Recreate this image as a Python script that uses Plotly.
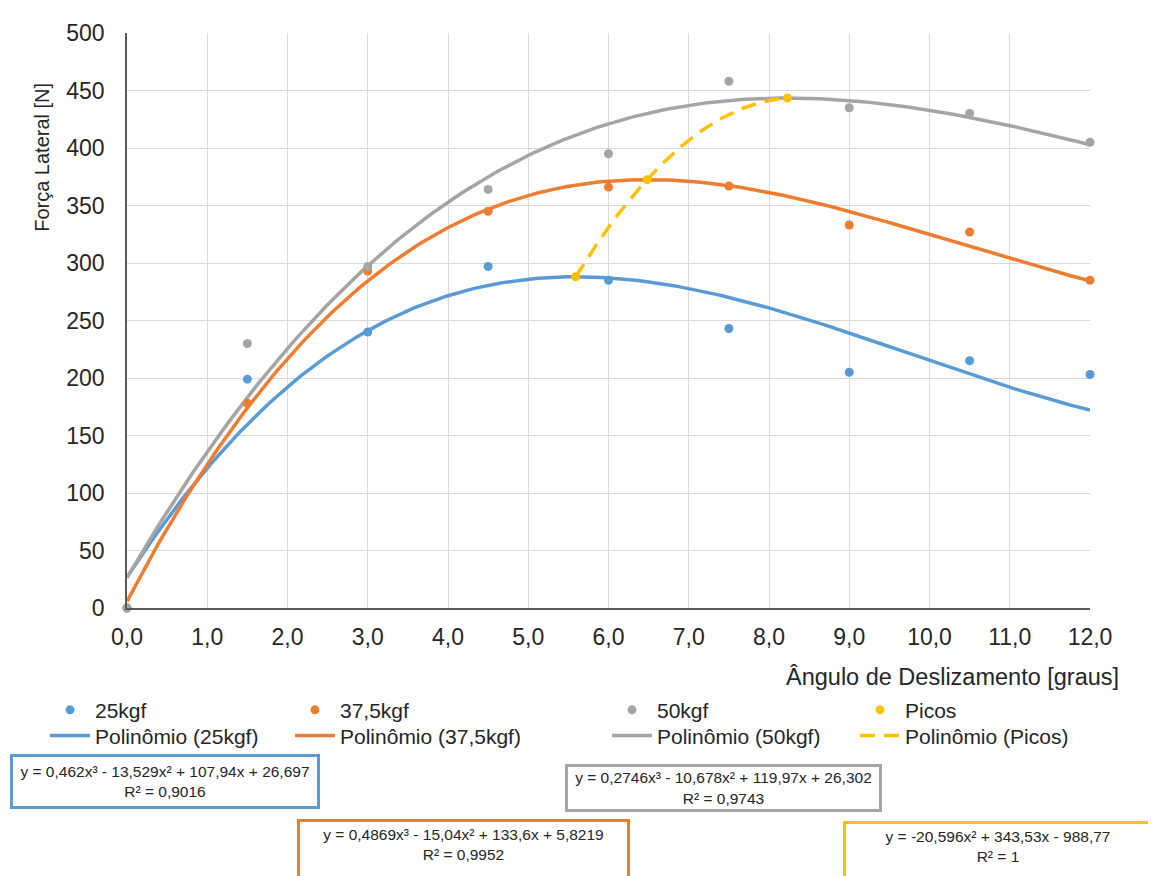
import numpy as np
import plotly.graph_objects as go

# ---- data ----
angles = [0, 1.5, 3, 4.5, 6, 7.5, 9, 10.5, 12]
f25 = [0, 199, 240, 297, 285, 243, 205, 215, 203]
f375 = [0, 178, 293, 345, 366, 367, 333, 327, 285]
f50 = [0, 230, 297, 364, 395, 458, 435, 430, 405]
picos_x = [5.59, 6.48, 8.23]
picos_y = [288.0, 372.5, 443.5]

# trendline coefficients (highest order first) as shown on the chart
coef25 = [0.462, -13.529, 107.94, 26.697]
coef375 = [0.4869, -15.04, 133.6, 5.8219]
coef50 = [0.2746, -10.678, 119.97, 26.302]
coefPicos = [-20.596, 343.53, -988.77]

eq25 = "y = 0,462x³ - 13,529x² + 107,94x + 26,697<br>R² = 0,9016"
eq375 = "y = 0,4869x³ - 15,04x² + 133,6x + 5,8219<br>R² = 0,9952"
eq50 = "y = 0,2746x³ - 10,678x² + 119,97x + 26,302<br>R² = 0,9743"
eqPicos = "y = -20,596x² + 343,53x - 988,77<br>R² = 1"

xtickvals = list(range(0, 13))
xticktext = ["0,0", "1,0", "2,0", "3,0", "4,0", "5,0", "6,0", "7,0", "8,0", "9,0", "10,0", "11,0", "12,0"]
ytickvals = list(range(0, 501, 50))

BLUE = "#5B9BD5"
ORANGE = "#ED7D31"
GRAY = "#A5A5A5"
YELLOW = "#FFC000"
FONT = "Liberation Sans, Arial, sans-serif"
TXT = "#262626"

# plot area in page pixels (page has an 8px body margin)
OFF = 8
L, R, T, B = 127, 1090, 23, 608
W, H = 1156, 876


def px(x):
    return (x - L) / (R - L)


def py(y):
    return (B - y) / (B - T)


fig = go.Figure()

xs = np.linspace(0, 12, 200)
xp = np.linspace(min(picos_x), max(picos_x), 100)

series = [
    ("25kgf", f25, coef25, BLUE, "legend", "legend5"),
    ("37,5kgf", f375, coef375, ORANGE, "legend2", "legend6"),
    ("50kgf", f50, coef50, GRAY, "legend3", "legend7"),
]

for name, ys, coef, col, legm, legl in series:
    fig.add_trace(go.Scatter(
        x=xs, y=np.polyval(coef, xs), mode="lines", name=f"Polinômio ({name})",
        line=dict(color=col, width=3.5), legend=legl,
        hoverinfo="skip", cliponaxis=False))

fig.add_trace(go.Scatter(
    x=xp, y=np.polyval(coefPicos, xp), mode="lines", name="Polinômio (Picos)",
    line=dict(color=YELLOW, width=3.5, dash="15px,9px"), legend="legend8",
    cliponaxis=False))

for name, ys, coef, col, legm, legl in series:
    fig.add_trace(go.Scatter(
        x=angles, y=ys, mode="markers", name=name,
        marker=dict(color=col, size=9), legend=legm, cliponaxis=False))

fig.add_trace(go.Scatter(
    x=picos_x, y=picos_y, mode="markers", name="Picos",
    marker=dict(color=YELLOW, size=9), legend="legend4", cliponaxis=False))

leg_common = dict(orientation="v", font=dict(family=FONT, size=21, color=TXT),
                  bgcolor="rgba(0,0,0,0)", xanchor="left", yanchor="middle",
                  itemwidth=40)
cols = [45, 290, 607, 855]
rows = [712, 738]
legends = {}
k = 1
for r in rows:
    for c in cols:
        key = "legend" if k == 1 else f"legend{k}"
        legends[key] = dict(x=px(c), y=py(r), **leg_common)
        k += 1
fig.update_layout(**legends)

fig.update_xaxes(
    range=[0, 12], tickvals=xtickvals, ticktext=xticktext,
    showgrid=True, gridcolor="#D9D9D9", gridwidth=1,
    showline=True, linecolor="#595959", linewidth=1.5,
    zeroline=False, ticks="", ticklabelstandoff=8,
    tickfont=dict(family=FONT, size=23, color=TXT))
fig.update_yaxes(
    range=[0, 500], tickvals=ytickvals,
    showgrid=True, gridcolor="#D9D9D9", gridwidth=1,
    showline=True, linecolor="#595959", linewidth=1.5,
    zeroline=False, ticks="", ticklabelstandoff=16,
    tickfont=dict(family=FONT, size=23, color=TXT))

annos = [
    dict(text="Força Lateral [N]", x=px(42), y=py(150), textangle=-90,
         font=dict(family=FONT, size=20, color=TXT), xanchor="center", yanchor="middle"),
    dict(text="Ângulo de Deslizamento [graus]", x=px(1121), y=py(678),
         font=dict(family=FONT, size=23.5, color=TXT), xanchor="right", yanchor="middle"),
]

# (text, colour, left, right, top, bottom) in page pixels; the last two run off the page
boxes = [
    (eq25, BLUE, 10, 320, 757, 812),
    (eq50, GRAY, 565, 882, 767, 815),
    (eq375, ORANGE, 297, 630, 823, 893),
    (eqPicos, YELLOW, 843, 1153, 825, 895),
]
for text, col, x0, x1, y0, y1 in boxes:
    cut = y1 > H
    pad = 4 if cut else 0
    annos.append(dict(
        text=text, x=px((x0 + x1) / 2), y=py((y0 + y1) / 2),
        xanchor="center", yanchor="middle", align="center",
        valign="top" if cut else "middle",
        width=(x1 - x0) - 6 - 2 * pad, height=(y1 - y0) - 6 - 2 * pad, borderpad=pad,
        bordercolor=col, borderwidth=3, bgcolor="white",
        font=dict(family=FONT, size=15.5, color=TXT), showarrow=False))

for a in annos:
    a.setdefault("showarrow", False)
    a["xref"] = "paper"
    a["yref"] = "paper"

fig.update_layout(
    width=W, height=H,
    margin=dict(l=L - OFF, r=W - (R - OFF), t=T - OFF, b=H - (B - OFF)),
    plot_bgcolor="white", paper_bgcolor="white",
    annotations=annos,
    showlegend=True,
    font=dict(family=FONT, color=TXT),
)

fig.write_html("out.html")
